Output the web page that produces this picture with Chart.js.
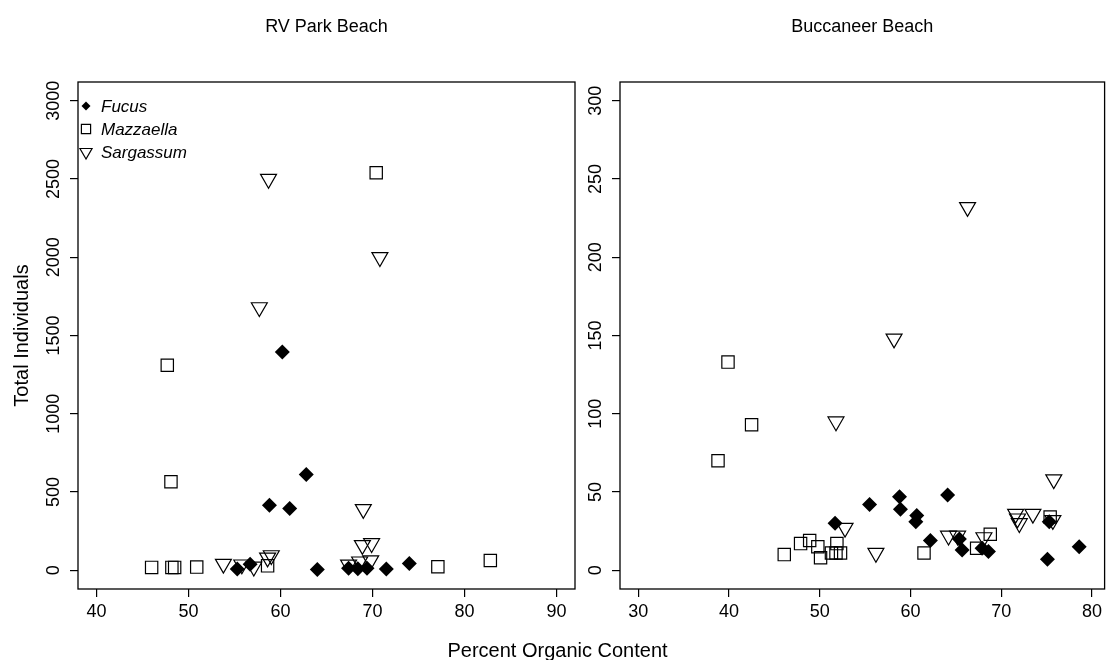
<!DOCTYPE html>
<html>
<head>
<meta charset="utf-8">
<title>Organic content vs. individuals</title>
<script src="https://cdn.jsdelivr.net/npm/chart.js@4.4.1/dist/chart.umd.min.js"></script>
<style>
  body { margin: 0; background: #fff; }
  #wrap { position: relative; width: 1115px; height: 660px; }
  #rvChart { position: absolute; left: 0; top: 0; }
  #bcChart { position: absolute; left: 570px; top: 0; }
  #xTitle {
    position: absolute; left: 0; top: 638px; width: 1115px;
    text-align: center; color: #000;
    font: 20px "Liberation Sans", Arial, sans-serif; line-height: 24px;
  }
</style>
</head>
<body>
<div id="wrap">
  <canvas id="rvChart" width="590" height="660"></canvas>
  <canvas id="bcChart" width="545" height="660"></canvas>
  <div id="xTitle">Percent Organic Content</div>
</div>
<script>
// --- RV Park Beach (percent organic content vs. total individuals) ---
const rvFucusPct   = [55.3, 56.7, 58.8, 60.2, 61.0, 62.8, 64.0, 67.4, 68.4, 69.4, 71.5, 74.0];
const rvFucusCount = [8, 38, 415, 1395, 395, 612, 5, 12, 10, 12, 8, 43];
const rvMazzPct    = [46.0, 47.7, 48.1, 48.2, 48.5, 50.9, 58.6, 70.4, 77.1, 82.8];
const rvMazzCount  = [18, 1310, 565, 18, 18, 20, 28, 2540, 22, 62];
const rvSargPct    = [53.8, 55.8, 57.1, 57.7, 58.6, 59.0, 58.7, 67.4, 68.6, 69.8, 68.9, 69.9, 69.0, 70.8];
const rvSargCount  = [40, 36, 22, 1680, 80, 95, 2500, 35, 55, 62, 160, 172, 390, 2000];

// --- Buccaneer Beach ---
const bcFucusPct   = [51.7, 55.5, 58.8, 58.9, 60.6, 60.7, 62.2, 64.1, 65.4, 65.7, 67.9, 68.6, 75.1, 75.3, 78.6];
const bcFucusCount = [30, 42, 47, 39, 31, 35, 19, 48, 20, 13, 14, 12, 7, 31, 15];
const bcMazzPct    = [38.8, 39.9, 42.5, 46.1, 47.9, 48.9, 49.8, 50.1, 51.3, 51.8, 51.9, 52.3, 61.5, 67.3, 68.8, 75.4];
const bcMazzCount  = [70, 133, 93, 10, 17, 19, 15, 8, 11, 11, 17, 11, 11, 14, 23, 34];
const bcSargPct    = [51.8, 52.8, 56.2, 58.2, 64.2, 65.2, 66.3, 68.1, 71.6, 71.8, 72.0, 73.5, 75.7, 75.8];
const bcSargCount  = [95, 27, 11, 148, 22, 22, 232, 21, 36, 33, 30, 36, 32, 58];

// --- Axis ticks ---
const rvPctTicks   = [40, 50, 60, 70, 80, 90];
const rvCountTicks = [0, 500, 1000, 1500, 2000, 2500, 3000];
const bcPctTicks   = [30, 40, 50, 60, 70, 80];
const bcCountTicks = [0, 50, 100, 150, 200, 250, 300];

const speciesNames = ['Fucus', 'Mazzaella', 'Sargassum'];

Chart.defaults.font.family = '"Liberation Sans", Arial, sans-serif';
Chart.defaults.color = '#000';

const toPoints = (xs, ys) => xs.map((x, i) => ({ x: x, y: ys[i] }));

// point symbols: filled diamond, open square, open down-triangle
const symbols = [
  { pointStyle: 'rectRot', radius: 7.5, rotation: 0, fill: '#000', borderWidth: 0 },
  { pointStyle: 'rect', radius: 8.7, rotation: 0, fill: 'rgba(0,0,0,0)', borderWidth: 1.2 },
  { pointStyle: 'triangle', radius: 9.2, rotation: 180, fill: 'rgba(0,0,0,0)', borderWidth: 1.2 }
];

// frame round the plotting region
const boxPlugin = {
  id: 'plotBox',
  afterDraw(chart) {
    const { ctx, chartArea: ca } = chart;
    ctx.save();
    ctx.strokeStyle = '#000';
    ctx.lineWidth = 1.3;
    ctx.strokeRect(ca.left, ca.top, ca.right - ca.left, ca.bottom - ca.top);
    ctx.restore();
  }
};

// y tick labels written parallel to the axis
const yLabelPlugin = {
  id: 'yLabels',
  afterDraw(chart) {
    const { ctx, chartArea: ca } = chart;
    const scale = chart.scales.y;
    ctx.save();
    ctx.fillStyle = '#000';
    ctx.font = '18px "Liberation Sans", Arial, sans-serif';
    ctx.textAlign = 'center';
    ctx.textBaseline = 'alphabetic';
    scale.ticks.forEach(t => {
      ctx.save();
      ctx.translate(ca.left - 19, scale.getPixelForValue(t.value));
      ctx.rotate(-Math.PI / 2);
      ctx.fillText(String(t.value), 0, 0);
      ctx.restore();
    });
    ctx.restore();
  }
};

// species key in the upper-left corner of the first panel
const keyPlugin = {
  id: 'speciesKey',
  afterDatasetsDraw(chart, args, opts) {
    if (!opts.show) return;
    const { ctx, chartArea: ca } = chart;
    const small = [4.5, 6.5, 7];
    ctx.save();
    speciesNames.forEach((name, i) => {
      const s = symbols[i];
      const y = ca.top + 24 + i * 23;
      ctx.fillStyle = s.fill;
      ctx.strokeStyle = '#000';
      ctx.lineWidth = s.borderWidth;
      Chart.helpers.drawPoint(ctx, {
        pointStyle: s.pointStyle, radius: small[i], rotation: s.rotation, borderWidth: s.borderWidth
      }, ca.left + 8, y);
      ctx.fillStyle = '#000';
      ctx.font = 'italic 17px "Liberation Sans", Arial, sans-serif';
      ctx.textAlign = 'left';
      ctx.textBaseline = 'middle';
      ctx.fillText(name, ca.left + 23, y + 1);
    });
    ctx.restore();
  }
};

function makeDatasets(series) {
  return series.map((pts, i) => ({
    label: speciesNames[i],
    data: pts,
    pointStyle: symbols[i].pointStyle,
    pointRadius: symbols[i].radius,
    pointRotation: symbols[i].rotation,
    pointBackgroundColor: symbols[i].fill,
    pointBorderColor: '#000',
    pointBorderWidth: symbols[i].borderWidth,
    showLine: false,
    order: i
  }));
}

function makePanel(canvasId, cfg) {
  return new Chart(document.getElementById(canvasId), {
    type: 'scatter',
    data: { datasets: makeDatasets(cfg.series) },
    options: {
      responsive: false,
      animation: false,
      layout: { padding: { left: 0, right: cfg.padRight, top: 0, bottom: 0 } },
      plugins: {
        legend: { display: false },
        tooltip: { enabled: false },
        title: {
          display: true,
          text: cfg.title,
          fullSize: false,
          font: { size: 18, weight: 'normal' },
          padding: { top: 16, bottom: 44.4 }
        },
        speciesKey: { show: cfg.showKey }
      },
      scales: {
        x: {
          type: 'linear',
          min: cfg.xRange[0],
          max: cfg.xRange[1],
          border: { display: false },
          grid: { drawOnChartArea: false, drawTicks: true, tickLength: 8, tickColor: '#000', lineWidth: 1.2 },
          ticks: { font: { size: 18 }, padding: 4 },
          afterBuildTicks: s => { s.ticks = cfg.xTicks.map(v => ({ value: v })); },
          afterFit: s => { s.height = 71; }
        },
        y: {
          type: 'linear',
          min: cfg.yRange[0],
          max: cfg.yRange[1],
          border: { display: false },
          grid: { drawOnChartArea: false, drawTicks: true, tickLength: 8, tickColor: '#000', lineWidth: 1.2 },
          ticks: { display: false },
          title: {
            display: cfg.yTitle !== '',
            text: cfg.yTitle,
            font: { size: 20 },
            padding: { top: 10, bottom: 0 }
          },
          afterBuildTicks: s => { s.ticks = cfg.yTicks.map(v => ({ value: v })); },
          afterFit: s => { s.width = cfg.yWidth; }
        }
      }
    },
    plugins: [boxPlugin, yLabelPlugin, keyPlugin]
  });
}

makePanel('rvChart', {
  title: 'RV Park Beach',
  series: [
    toPoints(rvFucusPct, rvFucusCount),
    toPoints(rvMazzPct, rvMazzCount),
    toPoints(rvSargPct, rvSargCount)
  ],
  xRange: [38, 92], yRange: [-120, 3120],
  xTicks: rvPctTicks, yTicks: rvCountTicks,
  yTitle: 'Total Individuals', yWidth: 78, padRight: 15, showKey: true
});

makePanel('bcChart', {
  title: 'Buccaneer Beach',
  series: [
    toPoints(bcFucusPct, bcFucusCount),
    toPoints(bcMazzPct, bcMazzCount),
    toPoints(bcSargPct, bcSargCount)
  ],
  xRange: [28, 81.4], yRange: [-12, 312],
  xTicks: bcPctTicks, yTicks: bcCountTicks,
  yTitle: '', yWidth: 50, padRight: 5, showKey: false
});
</script>
</body>
</html>
